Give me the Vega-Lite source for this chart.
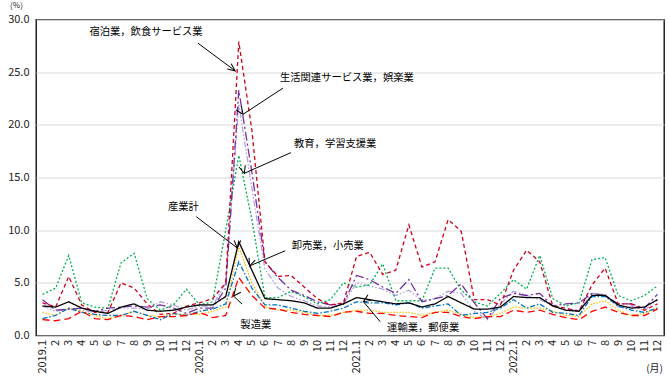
{
  "$schema": "https://vega.github.io/schema/vega-lite/v6.json",
  "width": 628,
  "height": 316,
  "autosize": {"type": "none"},
  "padding": {"left": 36, "top": 19.5, "right": 6, "bottom": 45.5},
  "background": "white",
  "config": {
    "font": "Noto Sans CJK JP",
    "view": {"stroke": "black", "strokeWidth": 1.3},
    "axis": {"labelColor": "#222", "titleColor": "#222", "titleFontWeight": "normal", "labelOverlap": false},
    "axisX": {"labelAngle": 270, "labelAlign": "right", "labelBaseline": "middle", "labelPadding": 4, "labelFontSize": 11,
      "labelFlush": false, "labelOverlap": false, "labelBound": false, "ticks": false, "grid": false, "domain": false,
      "titleX": 618, "titleY": 33, "titleAlign": "center", "titleBaseline": "middle", "titleFontSize": 10},
    "axisY": {"grid": true, "gridColor": "#D9D9D9", "gridWidth": 1, "ticks": false, "domain": false, "labelPadding": 7, "labelFontSize": 11,
      "labelOverlap": false, "labelFlush": false,
      "titleAngle": 0, "titleX": -20, "titleY": -14, "titleAlign": "center", "titleBaseline": "middle", "titleFontSize": 8}
  },
  "datasets": {
    "series": [
      {"i":0,"total":2.8,"mfg":1.5,"whole":2.2,"trans":1.6,"accom":3.1,"living":3.4,"edu":3.9,"other":2.8},
      {"i":1,"total":2.7,"mfg":1.4,"whole":1.9,"trans":1.9,"accom":2.7,"living":2.4,"edu":4.5,"other":2.3},
      {"i":2,"total":3.2,"mfg":1.6,"whole":2.6,"trans":2.6,"accom":5.6,"living":2.5,"edu":7.6,"other":2.5},
      {"i":3,"total":2.6,"mfg":2.3,"whole":2.3,"trans":2.2,"accom":2.9,"living":2.6,"edu":3.1,"other":2.4},
      {"i":4,"total":2.3,"mfg":1.6,"whole":1.9,"trans":2.0,"accom":2.2,"living":2.3,"edu":2.7,"other":2.2},
      {"i":5,"total":2.1,"mfg":1.5,"whole":1.6,"trans":1.9,"accom":2.2,"living":2.6,"edu":2.6,"other":2.4},
      {"i":6,"total":2.7,"mfg":1.9,"whole":1.9,"trans":1.9,"accom":5.0,"living":2.7,"edu":6.9,"other":2.6},
      {"i":7,"total":3.0,"mfg":1.8,"whole":2.3,"trans":2.3,"accom":4.5,"living":2.8,"edu":7.8,"other":2.6},
      {"i":8,"total":2.4,"mfg":1.5,"whole":1.9,"trans":1.9,"accom":3.0,"living":2.7,"edu":3.5,"other":2.5},
      {"i":9,"total":2.3,"mfg":1.8,"whole":1.8,"trans":1.5,"accom":2.0,"living":2.9,"edu":2.4,"other":3.2},
      {"i":10,"total":2.4,"mfg":1.8,"whole":2.0,"trans":2.1,"accom":2.1,"living":2.6,"edu":2.9,"other":2.9},
      {"i":11,"total":2.7,"mfg":1.9,"whole":2.0,"trans":1.9,"accom":2.8,"living":2.1,"edu":4.4,"other":2.4},
      {"i":12,"total":2.9,"mfg":2.2,"whole":2.0,"trans":2.3,"accom":3.1,"living":2.6,"edu":2.9,"other":2.8},
      {"i":13,"total":2.9,"mfg":1.7,"whole":2.3,"trans":2.5,"accom":3.5,"living":2.6,"edu":3.2,"other":2.8},
      {"i":14,"total":3.7,"mfg":1.9,"whole":2.7,"trans":3.0,"accom":5.0,"living":4.5,"edu":10.0,"other":5.0},
      {"i":15,"total":8.9,"mfg":5.5,"whole":8.4,"trans":7.0,"accom":27.9,"living":23.3,"edu":17.1,"other":22.0},
      {"i":16,"total":6.2,"mfg":3.8,"whole":5.0,"trans":4.5,"accom":19.5,"living":15.5,"edu":11.0,"other":14.0},
      {"i":17,"total":3.5,"mfg":2.6,"whole":2.7,"trans":2.9,"accom":7.0,"living":7.0,"edu":3.6,"other":6.3},
      {"i":18,"total":3.4,"mfg":2.5,"whole":2.4,"trans":2.9,"accom":5.6,"living":5.5,"edu":3.6,"other":4.5},
      {"i":19,"total":3.3,"mfg":2.2,"whole":2.4,"trans":2.6,"accom":5.7,"living":4.3,"edu":4.2,"other":3.7},
      {"i":20,"total":3.1,"mfg":2.0,"whole":2.2,"trans":2.3,"accom":4.6,"living":3.8,"edu":3.7,"other":3.3},
      {"i":21,"total":2.6,"mfg":1.9,"whole":1.9,"trans":2.1,"accom":3.5,"living":3.2,"edu":3.0,"other":2.8},
      {"i":22,"total":2.6,"mfg":1.8,"whole":1.9,"trans":2.3,"accom":2.9,"living":2.9,"edu":3.4,"other":2.7},
      {"i":23,"total":3.0,"mfg":2.2,"whole":2.2,"trans":2.6,"accom":3.1,"living":3.0,"edu":5.0,"other":3.0},
      {"i":24,"total":3.6,"mfg":2.3,"whole":2.4,"trans":3.2,"accom":7.5,"living":5.7,"edu":4.6,"other":5.0},
      {"i":25,"total":3.4,"mfg":2.1,"whole":2.4,"trans":3.1,"accom":7.9,"living":5.3,"edu":4.8,"other":4.7},
      {"i":26,"total":3.2,"mfg":2.1,"whole":2.2,"trans":3.1,"accom":5.8,"living":4.6,"edu":6.8,"other":4.4},
      {"i":27,"total":3.0,"mfg":1.9,"whole":2.2,"trans":2.9,"accom":6.2,"living":4.0,"edu":3.3,"other":3.8},
      {"i":28,"total":3.1,"mfg":1.8,"whole":2.2,"trans":3.1,"accom":10.5,"living":5.3,"edu":3.3,"other":4.3},
      {"i":29,"total":2.7,"mfg":1.7,"whole":1.9,"trans":2.6,"accom":6.5,"living":3.2,"edu":3.3,"other":3.3},
      {"i":30,"total":3.0,"mfg":2.2,"whole":2.2,"trans":2.8,"accom":7.0,"living":3.5,"edu":6.4,"other":3.5},
      {"i":31,"total":3.7,"mfg":2.2,"whole":2.4,"trans":3.0,"accom":11.0,"living":3.8,"edu":6.4,"other":4.2},
      {"i":32,"total":3.1,"mfg":1.8,"whole":2.0,"trans":1.9,"accom":9.9,"living":4.9,"edu":4.3,"other":4.0},
      {"i":33,"total":2.5,"mfg":1.6,"whole":1.7,"trans":2.1,"accom":3.4,"living":3.1,"edu":3.2,"other":2.3},
      {"i":34,"total":2.5,"mfg":1.8,"whole":1.8,"trans":2.2,"accom":3.4,"living":1.6,"edu":2.8,"other":1.5},
      {"i":35,"total":2.7,"mfg":1.8,"whole":2.1,"trans":2.6,"accom":2.9,"living":3.5,"edu":4.0,"other":3.0},
      {"i":36,"total":3.7,"mfg":2.4,"whole":2.7,"trans":3.4,"accom":6.2,"living":4.0,"edu":5.3,"other":4.2},
      {"i":37,"total":3.6,"mfg":2.2,"whole":2.6,"trans":2.6,"accom":8.1,"living":3.8,"edu":4.4,"other":3.8},
      {"i":38,"total":3.6,"mfg":2.4,"whole":2.6,"trans":3.0,"accom":7.0,"living":4.0,"edu":7.6,"other":3.4},
      {"i":39,"total":2.8,"mfg":2.0,"whole":2.3,"trans":2.2,"accom":2.8,"living":2.8,"edu":3.5,"other":2.9},
      {"i":40,"total":2.4,"mfg":1.7,"whole":1.9,"trans":2.1,"accom":2.6,"living":3.0,"edu":2.8,"other":2.5},
      {"i":41,"total":2.3,"mfg":1.5,"whole":1.8,"trans":1.9,"accom":2.3,"living":3.1,"edu":3.1,"other":2.4},
      {"i":42,"total":3.8,"mfg":2.3,"whole":3.0,"trans":3.7,"accom":4.8,"living":4.0,"edu":7.2,"other":4.0},
      {"i":43,"total":3.8,"mfg":2.7,"whole":3.3,"trans":3.7,"accom":6.4,"living":3.8,"edu":7.4,"other":3.9},
      {"i":44,"total":2.9,"mfg":2.2,"whole":2.4,"trans":2.8,"accom":3.0,"living":3.0,"edu":3.8,"other":2.7},
      {"i":45,"total":2.6,"mfg":1.9,"whole":1.9,"trans":2.4,"accom":3.0,"living":3.0,"edu":3.3,"other":2.8},
      {"i":46,"total":2.7,"mfg":1.9,"whole":2.1,"trans":2.2,"accom":2.4,"living":2.6,"edu":3.8,"other":2.4},
      {"i":47,"total":3.4,"mfg":2.5,"whole":2.6,"trans":2.6,"accom":3.0,"living":3.9,"edu":4.7,"other":3.4}
    ],
    "ann": [
      {"label":"宿泊業，飲食サービス業","tx":7.91,"ty":28.8,"x1":11.88,"y1":27.75,"x2":14.73,"y2":25.12},
      {"label":"生活関連サービス業，娯楽業","tx":23.26,"ty":24.43,"x1":18.37,"y1":23.48,"x2":15.32,"y2":21.0},
      {"label":"教育，学習支援業","tx":22.37,"ty":18.19,"x1":18.98,"y1":17.36,"x2":15.42,"y2":15.4},
      {"label":"産業計","tx":10.76,"ty":12.23,"x1":11.75,"y1":11.28,"x2":14.88,"y2":8.31},
      {"label":"卸売業，小売業","tx":21.8,"ty":8.53,"x1":18.55,"y1":8.05,"x2":15.82,"y2":6.6},
      {"label":"製造業","tx":16.3,"ty":1.0,"x1":15.24,"y1":2.99,"x2":14.6,"y2":3.75},
      {"label":"運輸業，郵便業","tx":29.09,"ty":0.74,"x1":25.81,"y1":1.31,"x2":24.53,"y2":3.21}
    ]
  },
  "layer": [
    {
      "data": {"name": "series"},
      "transform": [{"fold": ["other","whole","trans","mfg","edu","living","accom","total"], "as": ["key","value"]}],
      "mark": {"type": "line", "strokeWidth": 1.3},
      "encoding": {
        "x": {"field": "i", "type": "quantitative", "title": "(月)",
          "scale": {"domain": [-0.5, 47.5], "nice": false, "zero": false},
          "axis": {"values": [0,1,2,3,4,5,6,7,8,9,10,11,12,13,14,15,16,17,18,19,20,21,22,23,24,25,26,27,28,29,30,31,32,33,34,35,36,37,38,39,40,41,42,43,44,45,46,47],
            "labelExpr": "datum.value % 12 == 0 ? (2019 + datum.value / 12) + '.1' : (datum.value % 12 + 1) + ''",
            "labelOverlap": false, "labelFlush": false}},
        "y": {"field": "value", "type": "quantitative", "title": "(%)",
          "scale": {"domain": [0, 30], "nice": false},
          "axis": {"values": [0,5,10,15,20,25,30], "format": ".1f", "labelOverlap": false}},
        "color": {"field": "key", "type": "nominal", "legend": null,
          "scale": {"domain": ["other","whole","trans","mfg","edu","living","accom","total"],
            "range": ["#B4A0E0","#FFC000","#0070C0","#FF0000","#00B050","#7030A0","#D0021B","#000000"]}},
        "strokeDash": {"field": "key", "type": "nominal", "legend": null,
          "scale": {"domain": ["other","whole","trans","mfg","edu","living","accom","total"],
            "range": [[6,2,1.5,2,1.5,2],[1.5,1.5],[5,2,1.5,2],[7,4],[2,2],[9,3,2,3],[4,3],[1,0]]}}
      }
    },
    {
      "data": {"name": "ann"},
      "mark": {"type": "rule", "color": "black", "strokeWidth": 1},
      "encoding": {
        "x": {"field": "x1", "type": "quantitative", "title": "(月)",
          "axis": {"values": [0,1,2,3,4,5,6,7,8,9,10,11,12,13,14,15,16,17,18,19,20,21,22,23,24,25,26,27,28,29,30,31,32,33,34,35,36,37,38,39,40,41,42,43,44,45,46,47],
            "labelExpr": "datum.value % 12 == 0 ? (2019 + datum.value / 12) + '.1' : (datum.value % 12 + 1) + ''",
            "labelOverlap": false, "labelFlush": false}},
        "y": {"field": "y1", "type": "quantitative", "title": "(%)",
          "axis": {"values": [0,5,10,15,20,25,30], "format": ".1f", "labelOverlap": false}},
        "x2": {"field": "x2"},
        "y2": {"field": "y2"}
      }
    },
    {
      "data": {"name": "ann"},
      "mark": {"type": "text", "fontSize": 10.3, "color": "black", "align": "center", "baseline": "middle"},
      "encoding": {
        "x": {"field": "tx", "type": "quantitative", "title": "(月)",
          "axis": {"values": [0,1,2,3,4,5,6,7,8,9,10,11,12,13,14,15,16,17,18,19,20,21,22,23,24,25,26,27,28,29,30,31,32,33,34,35,36,37,38,39,40,41,42,43,44,45,46,47],
            "labelExpr": "datum.value % 12 == 0 ? (2019 + datum.value / 12) + '.1' : (datum.value % 12 + 1) + ''",
            "labelOverlap": false, "labelFlush": false}},
        "y": {"field": "ty", "type": "quantitative", "title": "(%)",
          "axis": {"values": [0,5,10,15,20,25,30], "format": ".1f", "labelOverlap": false}},
        "text": {"field": "label"}
      }
    },
    {"data": {"name": "ann"},
      "mark": {"type": "point", "shape": "M -2.5 -1.1 L 0 0 L -2.5 1.1", "size": 36, "filled": false, "stroke": "black", "strokeWidth": 1, "opacity": 1},
      "encoding": {
        "x": {"field": "x2", "type": "quantitative", "title": "(月)",
          "axis": {"values": [0,1,2,3,4,5,6,7,8,9,10,11,12,13,14,15,16,17,18,19,20,21,22,23,24,25,26,27,28,29,30,31,32,33,34,35,36,37,38,39,40,41,42,43,44,45,46,47],
            "labelExpr": "datum.value % 12 == 0 ? (2019 + datum.value / 12) + '.1' : (datum.value % 12 + 1) + ''",
            "labelOverlap": false, "labelFlush": false}},
        "y": {"field": "y2", "type": "quantitative", "title": "(%)",
          "axis": {"values": [0,5,10,15,20,25,30], "format": ".1f", "labelOverlap": false}},
        "angle": {"field": "label", "type": "nominal", "legend": null,
          "scale": {"domain": ["宿泊業，飲食サービス業","生活関連サービス業，娯楽業","教育，学習支援業","産業計","卸売業，小売業","製造業","運輸業，郵便業"],
            "range": [36.6, 147, 156, 37.4, 157, 223.6, 230]}}
      }
    }
  ]
}
